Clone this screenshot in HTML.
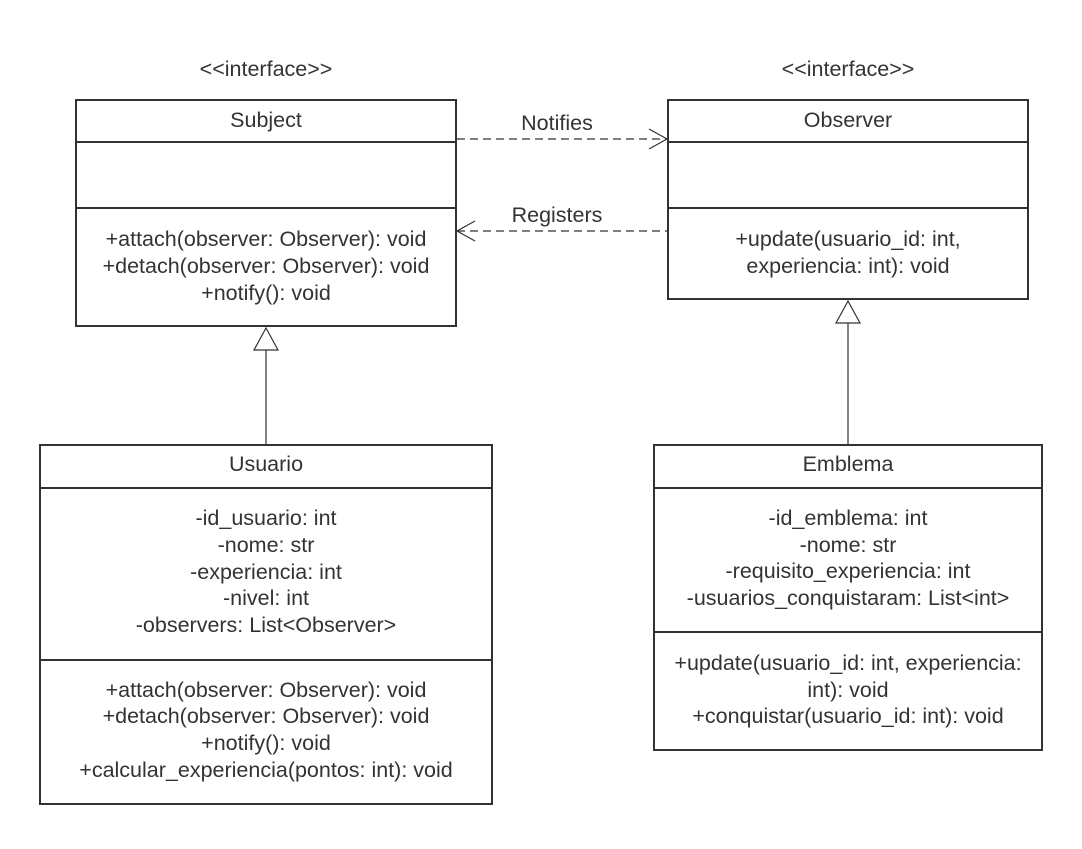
<!DOCTYPE html>
<html><head><meta charset="utf-8"><style>html,body{margin:0;padding:0;background:#fff}</style></head>
<body>
<svg width="1082" height="844" xmlns="http://www.w3.org/2000/svg" font-family="Liberation Sans, sans-serif" font-size="21.5" fill="#333">
<rect width="1082" height="844" fill="#fff"/>
<g fill="none" stroke="#333" stroke-width="2">
<rect x="76" y="100" width="380" height="226"/>
<line x1="76" y1="142" x2="456" y2="142"/>
<line x1="76" y1="208" x2="456" y2="208"/>
<rect x="668" y="100" width="360" height="199"/>
<line x1="668" y1="142" x2="1028" y2="142"/>
<line x1="668" y1="208" x2="1028" y2="208"/>
<rect x="40" y="445" width="452" height="359"/>
<line x1="40" y1="488" x2="492" y2="488"/>
<line x1="40" y1="660" x2="492" y2="660"/>
<rect x="654" y="445" width="388" height="305"/>
<line x1="654" y1="488" x2="1042" y2="488"/>
<line x1="654" y1="632" x2="1042" y2="632"/>
</g>
<g fill="none" stroke="#333" stroke-width="1.2">
<line x1="457" y1="139" x2="667" y2="139" stroke-dasharray="8,5"/>
<polyline points="649,129 667,139 649,149"/>
<line x1="457" y1="231" x2="667" y2="231" stroke-dasharray="8,5"/>
<polyline points="475,221 457,231 475,241"/>
<polygon points="266,328 254,350 278,350"/>
<line x1="266" y1="350" x2="266" y2="445"/>
<polygon points="848,301 836,323 860,323"/>
<line x1="848" y1="323" x2="848" y2="445"/>
</g>
<g text-anchor="middle" dominant-baseline="central">
<text x="266" y="69">&lt;&lt;interface&gt;&gt;</text>
<text x="848" y="69">&lt;&lt;interface&gt;&gt;</text>
<text x="266" y="120">Subject</text>
<text x="266" y="239">+attach(observer: Observer): void</text>
<text x="266" y="266">+detach(observer: Observer): void</text>
<text x="266" y="293">+notify(): void</text>
<text x="557" y="123">Notifies</text>
<text x="557" y="215">Registers</text>
<text x="848" y="120">Observer</text>
<text x="848" y="239">+update(usuario_id: int,</text>
<text x="848" y="266">experiencia: int): void</text>
<text x="266" y="464">Usuario</text>
<text x="266" y="518">-id_usuario: int</text>
<text x="266" y="545">-nome: str</text>
<text x="266" y="572">-experiencia: int</text>
<text x="266" y="598">-nivel: int</text>
<text x="266" y="625">-observers: List&lt;Observer&gt;</text>
<text x="266" y="690">+attach(observer: Observer): void</text>
<text x="266" y="716">+detach(observer: Observer): void</text>
<text x="266" y="743">+notify(): void</text>
<text x="266" y="770">+calcular_experiencia(pontos: int): void</text>
<text x="848" y="464">Emblema</text>
<text x="848" y="518">-id_emblema: int</text>
<text x="848" y="545">-nome: str</text>
<text x="848" y="571">-requisito_experiencia: int</text>
<text x="848" y="598">-usuarios_conquistaram: List&lt;int&gt;</text>
<text x="848" y="663">+update(usuario_id: int, experiencia:</text>
<text x="848" y="690">int): void</text>
<text x="848" y="716">+conquistar(usuario_id: int): void</text>
</g>
</svg>
</body></html>
